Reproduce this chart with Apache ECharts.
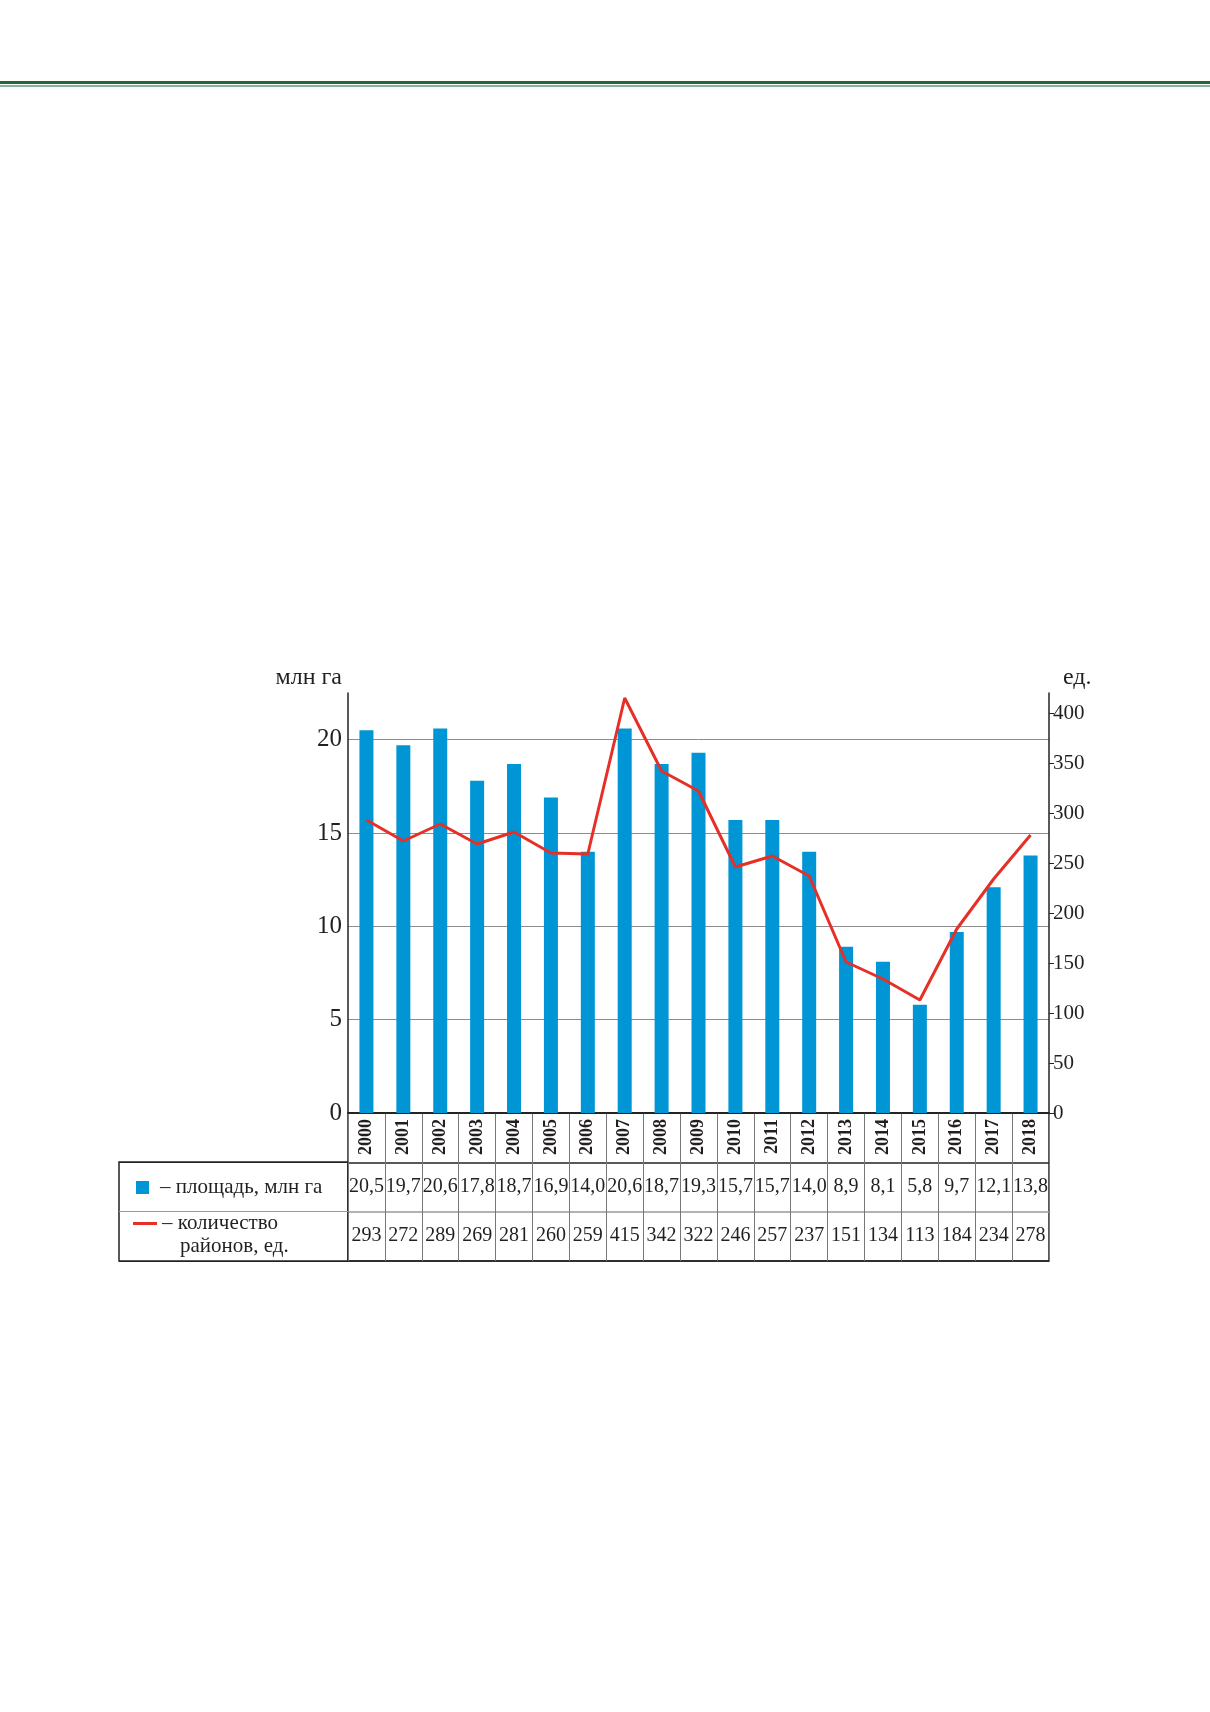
<!DOCTYPE html>
<html lang="ru">
<head>
    <meta charset="UTF-8">
    <title>Площадь и количество районов</title>
    <style type="text/css">
        html, body{margin:0;padding:0;background:#fff;}
        .page{position:relative;width:1210px;height:1712px;}
        .rule-dark{position:absolute;left:0;top:81px;width:1210px;height:3px;background:#1c6b3d;}
        .rule-light{position:absolute;left:0;top:85px;width:1210px;height:2px;background:#86b596;}
        #myChart{position:absolute;left:0;top:0;width:1210px;height:1712px;}
    </style>
</head>
<body>
<div class="page">
    <div class="rule-dark"></div>
    <div class="rule-light"></div>
    <div id="myChart"></div>
</div>

<script src="https://cdn.jsdelivr.net/npm/echarts@6/dist/echarts.min.js"></script>
<script type="text/javascript">
    // данные
    var years = ['2000','2001','2002','2003','2004','2005','2006','2007','2008','2009',
                 '2010','2011','2012','2013','2014','2015','2016','2017','2018'];
    var area = [20.5, 19.7, 20.6, 17.8, 18.7, 16.9, 14.0, 20.6, 18.7, 19.3,
                15.7, 15.7, 14.0, 8.9, 8.1, 5.8, 9.7, 12.1, 13.8];
    var districts = [293, 272, 289, 269, 281, 260, 259, 415, 342, 322,
                     246, 257, 237, 151, 134, 113, 184, 234, 278];
    var leftTicks = [0, 5, 10, 15, 20];
    var rightTicks = [0, 50, 100, 150, 200, 250, 300, 350, 400];

    var serif = "'Liberation Serif', 'Times New Roman', serif";
    var ink = '#231f20';

    function fmtArea(v) {
        return v.toFixed(1).replace('.', ',');
    }

    var myChart = echarts.init(document.getElementById('myChart'));

    var option = {
        animation: false,
        grid: [
            // основной график
            {left: 348, top: 693, width: 701, height: 420, containLabel: false},
            // столбцы таблицы (годы + 2 строки)
            {left: 348, top: 1113, width: 701, height: 148, show: true,
             borderColor: '#222', borderWidth: 1.5, backgroundColor: 'transparent'},
            // левая колонка с легендой
            {left: 119, top: 1162, width: 229, height: 99, show: true,
             borderColor: '#222', borderWidth: 1.5, backgroundColor: 'transparent'}
        ],
        legend: [
            {
                data: ['площадь, млн га'],
                left: 136, top: 1177, padding: 0,
                icon: 'rect', itemWidth: 13, itemHeight: 13,
                selectedMode: false,
                formatter: '– {name}',
                textStyle: {fontFamily: serif, fontSize: 21, color: ink, padding: [0, 0, 0, 6]}
            },
            {
                data: ['количество районов, ед.'],
                left: 133, top: 1189, padding: 0,
                icon: 'rect', itemWidth: 24, itemHeight: 3,
                selectedMode: false,
                formatter: function () {
                    return '{a|– количество}\n{b|районов, ед.}';
                },
                textStyle: {
                    fontFamily: serif, fontSize: 21, color: ink, lineHeight: 23,
                    padding: [23, 0, 0, 0],
                    rich: {
                        a: {fontFamily: serif, fontSize: 21, color: ink, lineHeight: 23},
                        b: {fontFamily: serif, fontSize: 21, color: ink, lineHeight: 23, padding: [0, 0, 0, 18]}
                    }
                }
            }
        ],
        xAxis: [
            {
                type: 'category', gridIndex: 0, data: years, position: 'bottom',
                axisLine: {lineStyle: {color: '#222', width: 1.5}},
                axisTick: {show: false},
                axisLabel: {interval: 0, rotate: 90, margin: 6, fontFamily: serif, fontSize: 18,
                            fontWeight: 'bold', color: ink}
            },
            {
                type: 'category', gridIndex: 0, data: years, position: 'bottom',
                axisLine: {show: false}, axisTick: {show: false},
                axisLabel: {interval: 0, margin: 64, fontFamily: serif, fontSize: 20, color: ink,
                            formatter: function (v, i) { return fmtArea(area[i]); }}
            },
            {
                type: 'category', gridIndex: 0, data: years, position: 'bottom',
                axisLine: {show: false}, axisTick: {show: false},
                axisLabel: {interval: 0, margin: 113, fontFamily: serif, fontSize: 20, color: ink,
                            formatter: function (v, i) { return String(districts[i]); }}
            },
            {
                type: 'category', gridIndex: 1, data: years,
                axisLine: {show: false}, axisTick: {show: false}, axisLabel: {show: false},
                splitLine: {show: true, interval: 0, lineStyle: {color: '#777', width: 1}}
            },
            {
                type: 'value', gridIndex: 2, min: 0, max: 1, show: false
            }
        ],
        yAxis: [
            {
                type: 'value', gridIndex: 0, min: 0, max: 22.5, interval: 5,
                name: 'млн га', nameLocation: 'end', nameGap: 15,
                nameTextStyle: {fontFamily: serif, fontSize: 24, color: ink,
                                align: 'right', verticalAlign: 'middle', padding: [0, 6, 0, 0]},
                axisLine: {show: true, lineStyle: {color: '#222', width: 1.5}},
                axisTick: {show: false},
                axisLabel: {margin: 6, fontFamily: serif, fontSize: 25, color: ink,
                            customValues: leftTicks},
                splitLine: {show: true, showMinLine: false, showMaxLine: false,
                            lineStyle: {color: '#8c8c8c', width: 1}}
            },
            {
                type: 'value', gridIndex: 0, min: 0, max: 420, interval: 50, position: 'right',
                name: 'ед.', nameLocation: 'end', nameGap: 15,
                nameTextStyle: {fontFamily: serif, fontSize: 24, color: ink,
                                align: 'left', verticalAlign: 'middle', padding: [0, 0, 0, 14]},
                axisLine: {show: true, lineStyle: {color: '#222', width: 1.5}},
                axisTick: {show: true, length: 5, lineStyle: {color: '#222'}, customValues: rightTicks},
                axisLabel: {margin: 4, fontFamily: serif, fontSize: 21, color: ink,
                            customValues: rightTicks},
                splitLine: {show: false}
            },
            {
                type: 'value', gridIndex: 1, min: 0, max: 3, interval: 1,
                axisLine: {show: false}, axisTick: {show: false}, axisLabel: {show: false},
                splitLine: {show: true, lineStyle: {color: ['#222', '#999', '#222', '#222'], width: 1.5}}
            },
            {
                type: 'value', gridIndex: 2, min: 0, max: 2, interval: 1,
                axisLine: {show: false}, axisTick: {show: false}, axisLabel: {show: false},
                splitLine: {show: true, lineStyle: {color: ['#222', '#999', '#222'], width: 1}}
            }
        ],
        series: [
            {
                name: 'площадь, млн га',
                type: 'bar',
                xAxisIndex: 0, yAxisIndex: 0,
                barWidth: 14,
                itemStyle: {color: '#0096d6'},
                data: area
            },
            {
                name: 'количество районов, ед.',
                type: 'line',
                xAxisIndex: 0, yAxisIndex: 1,
                symbol: 'none',
                lineStyle: {color: '#e63027', width: 3},
                itemStyle: {color: '#e63027'},
                data: districts
            }
        ]
    };

    myChart.setOption(option);
</script>
</body>
</html>
